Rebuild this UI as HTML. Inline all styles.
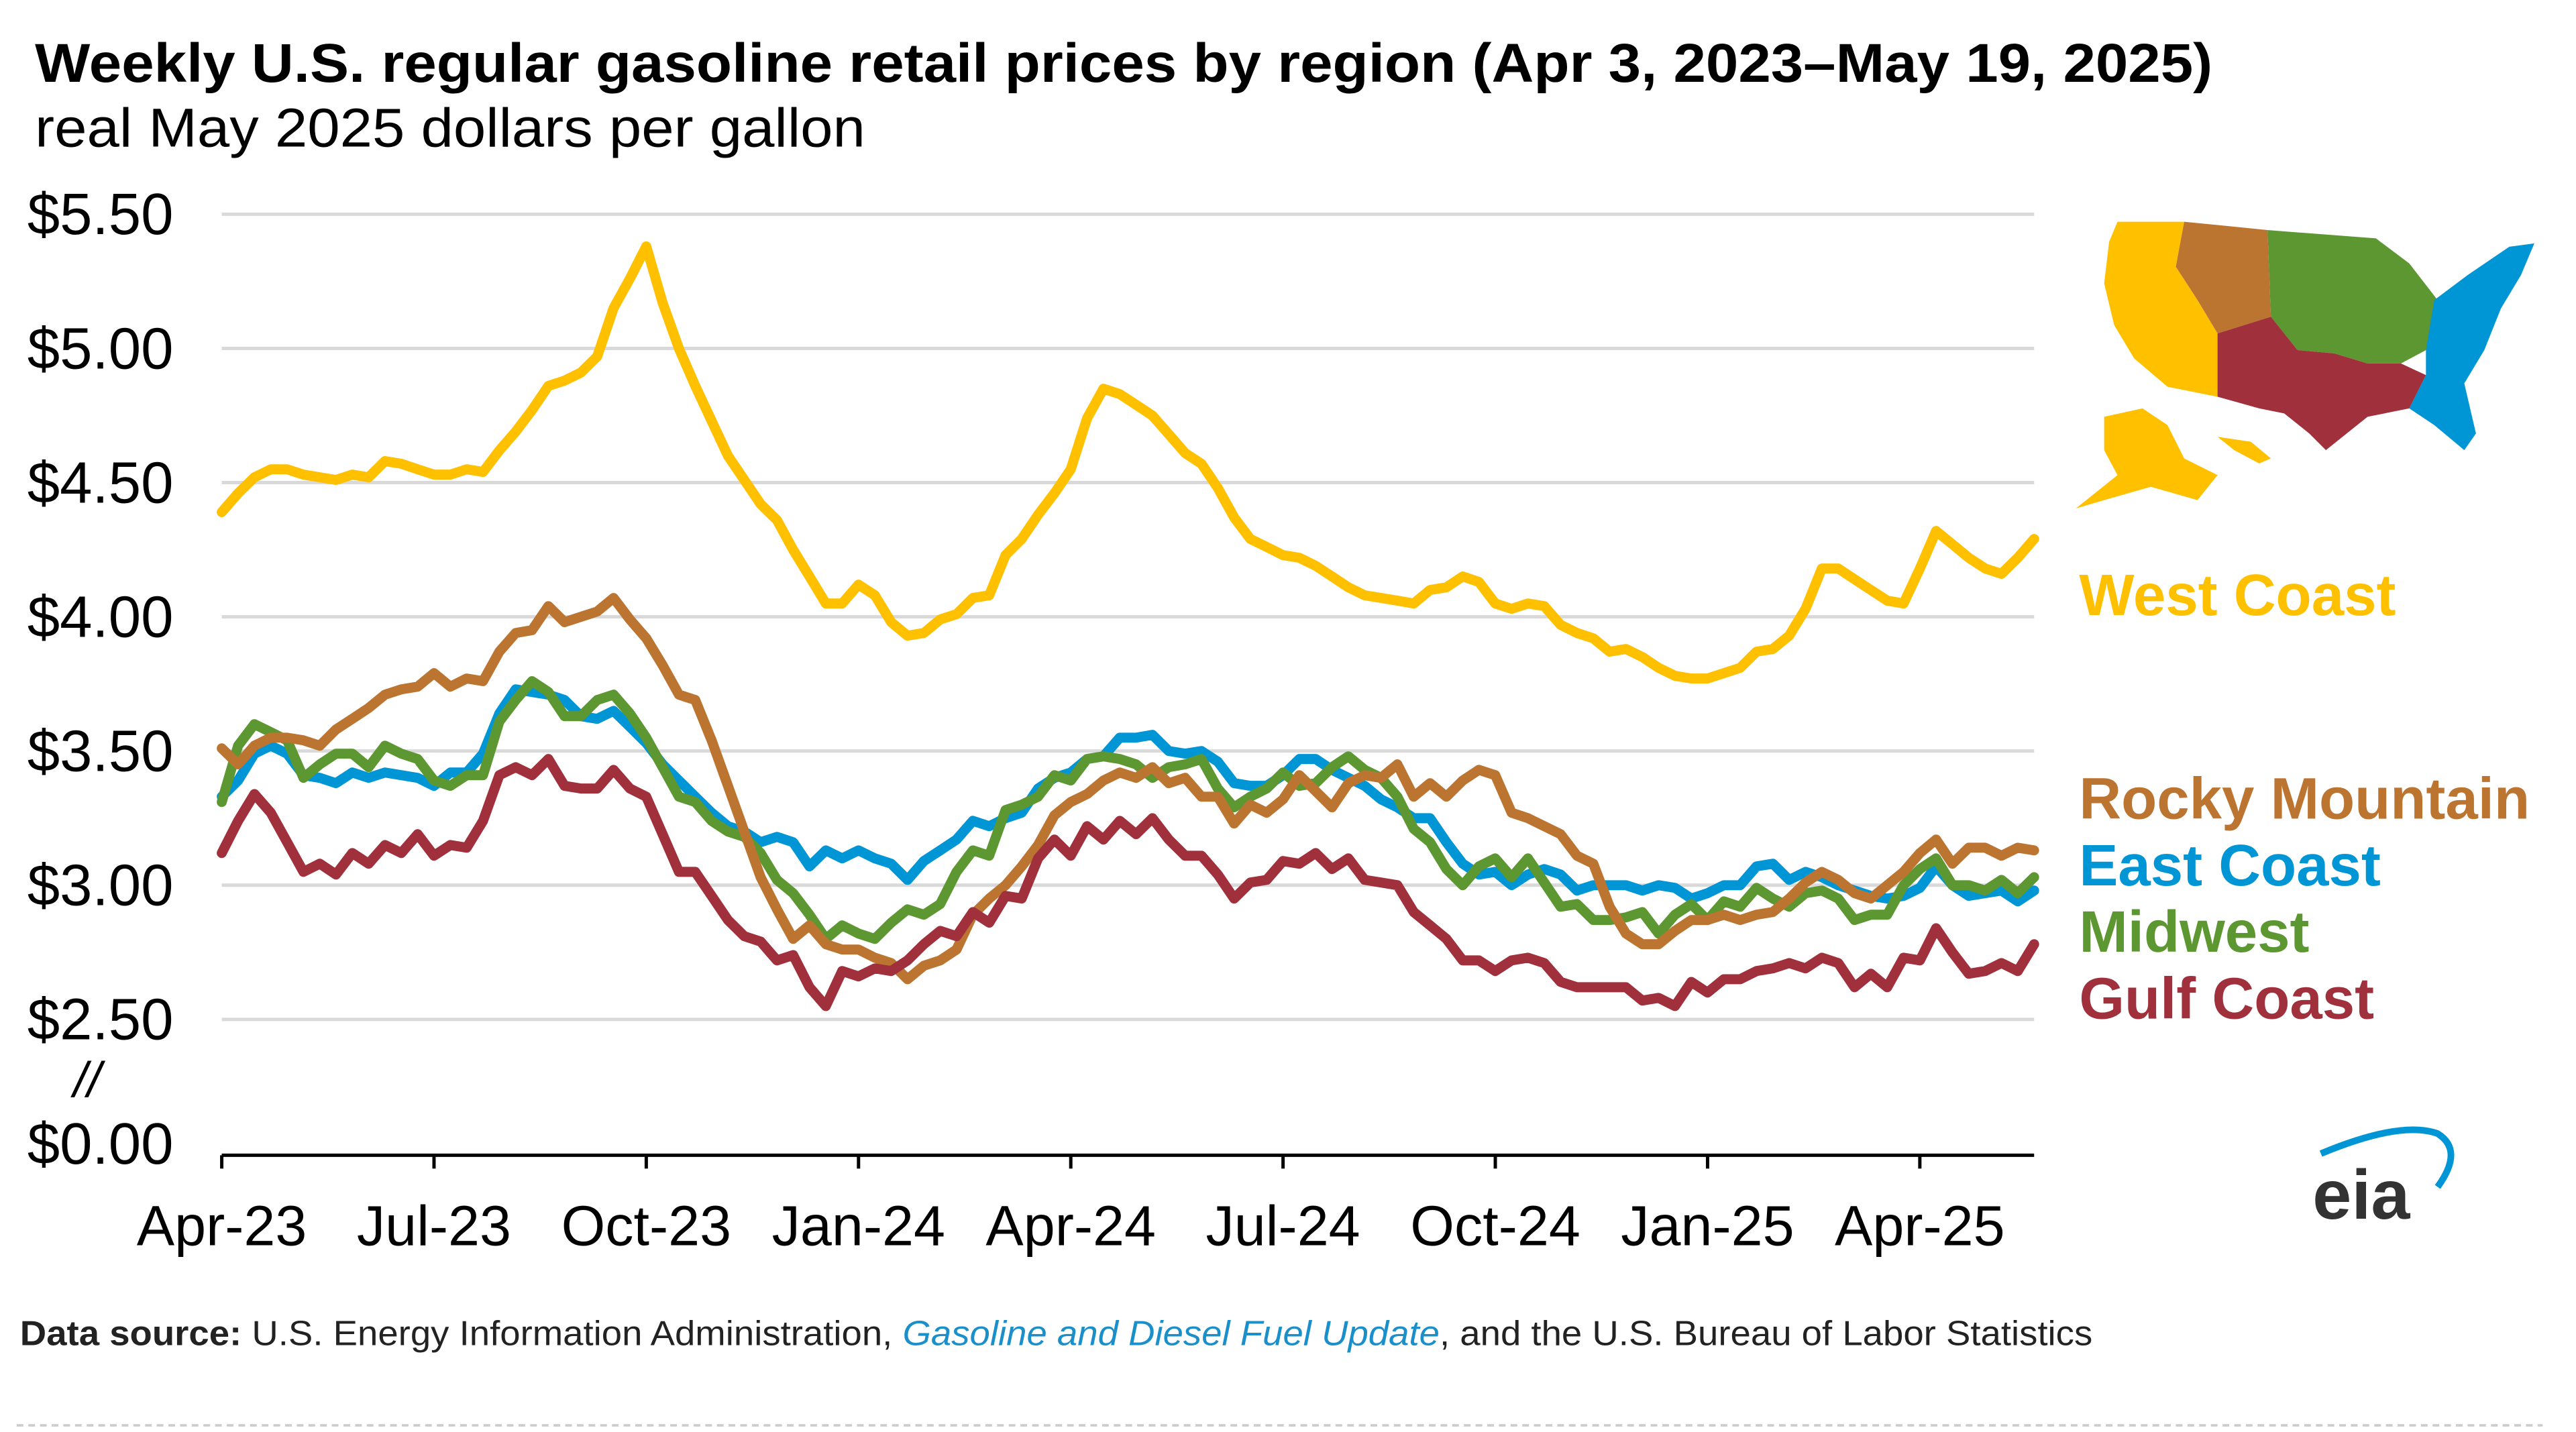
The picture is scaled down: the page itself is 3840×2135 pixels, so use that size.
<!DOCTYPE html>
<html><head><meta charset="utf-8"><style>
html,body{margin:0;padding:0;background:#fff;}
svg{display:block;}
text{font-family:"Liberation Sans",Arial,sans-serif;}
</style></head><body>
<svg id="chart" width="3840" height="2135" viewBox="0 0 1545 859" xmlns="http://www.w3.org/2000/svg">
<text x="21" y="49" font-size="33" font-weight="bold" fill="#000" textLength="1306" lengthAdjust="spacingAndGlyphs">Weekly U.S. regular gasoline retail prices by region (Apr 3, 2023–May 19, 2025)</text>
<text x="21" y="88" font-size="33" fill="#000" textLength="498" lengthAdjust="spacingAndGlyphs">real May 2025 dollars per gallon</text>
<g id="grid"></g>
<g id="yaxis"></g>
<text x="44" y="658" font-size="30" fill="#000" font-style="italic">//</text>
<g id="xaxis"></g>
<g id="lines"></g>
<g>
<polygon fill="#FFC000" points="1270,133 1310,133 1305,160 1318,180 1330,200 1330,238 1300,232 1280,215 1268,195 1262,170 1265,145"/>
<polygon fill="#BC7431" points="1310,133 1360,138 1362,190 1330,200 1318,180 1305,160"/>
<polygon fill="#5D9732" points="1360,138 1425,143 1445,158 1462,180 1455,210 1440,218 1420,218 1400,212 1378,210 1362,190"/>
<polygon fill="#A0303C" points="1330,200 1362,190 1378,210 1400,212 1420,218 1440,218 1455,225 1445,245 1420,250 1395,270 1385,260 1370,248 1355,245 1330,238"/>
<polygon fill="#0096D6" points="1460,180 1480,165 1505,148 1520,146 1512,165 1500,185 1490,210 1478,230 1485,260 1478,270 1460,255 1445,245 1455,225 1455,210"/>
<polygon fill="#FFC000" points="1262,250 1285,245 1300,255 1310,275 1330,285 1318,300 1290,292 1262,300 1245,305 1270,285 1262,270"/>
<polygon fill="#FFC000" points="1330,262 1350,265 1362,275 1355,278 1340,270"/>
</g>
<g font-size="35" font-weight="bold">
<text x="1247" y="369" fill="#FFC000">West Coast</text>
<text x="1247" y="491" fill="#BC7431">Rocky Mountain</text>
<text x="1247" y="531" fill="#0096D6">East Coast</text>
<text x="1247" y="571" fill="#5D9732">Midwest</text>
<text x="1247" y="611" fill="#A0303C">Gulf Coast</text>
</g>
<g>
<path d="M1392,692 Q1440,672 1462,680 Q1478,690 1462,712" fill="none" stroke="#0096D6" stroke-width="4"/>
<text x="1387" y="731" font-size="42" font-weight="bold" fill="#333">eia</text>
</g>
<text x="12" y="807" font-size="21" fill="#222" textLength="1243" lengthAdjust="spacingAndGlyphs"><tspan font-weight="bold">Data source:</tspan> U.S. Energy Information Administration, <tspan fill="#1a8fc9" font-style="italic">Gasoline and Diesel Fuel Update</tspan>, and the U.S. Bureau of Labor Statistics</text>
<line x1="10" y1="855" x2="1525" y2="855" stroke="#ccc" stroke-width="1.5" stroke-dasharray="4,3"/>
</svg>
<script>
const yTicks = [2.5, 3.0, 3.5, 4.0, 4.5, 5.0, 5.5];
const yTickLabels = ["$2.50","$3.00","$3.50","$4.00","$4.50","$5.00","$5.50"];
const xTickWeeks = [0, 13, 26, 39, 52, 65, 78, 91, 104];
const xTickLabels = ["Apr-23","Jul-23","Oct-23","Jan-24","Apr-24","Jul-24","Oct-24","Jan-25","Apr-25"];
const westCoast = [4.39,4.46,4.52,4.55,4.55,4.53,4.52,4.51,4.53,4.52,4.58,4.57,4.55,4.53,4.53,4.55,4.54,4.62,4.69,4.77,4.86,4.88,4.91,4.97,5.15,5.26,5.38,5.17,5.00,4.86,4.73,4.60,4.51,4.42,4.36,4.25,4.15,4.05,4.05,4.12,4.08,3.98,3.93,3.94,3.99,4.01,4.07,4.08,4.23,4.29,4.38,4.46,4.55,4.74,4.85,4.83,4.79,4.75,4.68,4.61,4.57,4.48,4.37,4.29,4.26,4.23,4.22,4.19,4.15,4.11,4.08,4.07,4.06,4.05,4.10,4.11,4.15,4.13,4.05,4.03,4.05,4.04,3.97,3.94,3.92,3.87,3.88,3.85,3.81,3.78,3.77,3.77,3.79,3.81,3.87,3.88,3.93,4.03,4.18,4.18,4.14,4.10,4.06,4.05,4.18,4.32,4.27,4.22,4.18,4.16,4.22,4.29];
const rockyMountain = [3.51,3.45,3.52,3.55,3.55,3.54,3.52,3.58,3.62,3.66,3.71,3.73,3.74,3.79,3.74,3.77,3.76,3.87,3.94,3.95,4.04,3.98,4.00,4.02,4.07,3.99,3.92,3.82,3.71,3.69,3.54,3.37,3.20,3.03,2.91,2.80,2.85,2.78,2.76,2.76,2.73,2.71,2.65,2.70,2.72,2.76,2.89,2.95,3.00,3.07,3.15,3.26,3.31,3.34,3.39,3.42,3.40,3.44,3.38,3.40,3.33,3.33,3.23,3.30,3.27,3.32,3.41,3.35,3.29,3.38,3.41,3.40,3.45,3.33,3.38,3.33,3.39,3.43,3.41,3.27,3.25,3.22,3.19,3.11,3.08,2.92,2.82,2.78,2.78,2.83,2.87,2.87,2.89,2.87,2.89,2.90,2.95,3.01,3.05,3.02,2.97,2.95,3.00,3.05,3.12,3.17,3.08,3.14,3.14,3.11,3.14,3.13];
const eastCoast = [3.33,3.39,3.49,3.52,3.49,3.41,3.40,3.38,3.42,3.40,3.42,3.41,3.40,3.37,3.42,3.42,3.49,3.64,3.73,3.72,3.71,3.69,3.63,3.62,3.65,3.59,3.53,3.45,3.39,3.33,3.27,3.22,3.20,3.16,3.18,3.16,3.07,3.13,3.10,3.13,3.10,3.08,3.02,3.09,3.13,3.17,3.24,3.22,3.25,3.27,3.36,3.40,3.42,3.47,3.48,3.55,3.55,3.56,3.50,3.49,3.50,3.46,3.38,3.37,3.37,3.41,3.47,3.47,3.43,3.40,3.37,3.32,3.29,3.25,3.25,3.16,3.08,3.04,3.05,3.00,3.04,3.06,3.04,2.98,3.00,3.00,3.00,2.98,3.00,2.99,2.95,2.97,3.00,3.00,3.07,3.08,3.02,3.05,3.03,3.00,2.98,2.96,2.95,2.96,2.99,3.07,3.00,2.96,2.97,2.98,2.94,2.98];
const midwest = [3.31,3.52,3.60,3.57,3.54,3.40,3.45,3.49,3.49,3.44,3.52,3.49,3.47,3.39,3.37,3.41,3.41,3.61,3.69,3.76,3.72,3.63,3.63,3.69,3.71,3.64,3.55,3.44,3.33,3.31,3.24,3.20,3.18,3.12,3.02,2.97,2.89,2.80,2.85,2.82,2.80,2.86,2.91,2.89,2.93,3.05,3.13,3.11,3.28,3.30,3.33,3.41,3.39,3.47,3.48,3.47,3.45,3.40,3.44,3.45,3.47,3.36,3.29,3.33,3.36,3.42,3.37,3.38,3.44,3.48,3.43,3.40,3.33,3.21,3.16,3.06,3.00,3.07,3.10,3.03,3.10,3.01,2.92,2.93,2.87,2.87,2.88,2.90,2.82,2.89,2.93,2.87,2.94,2.92,2.99,2.95,2.92,2.97,2.98,2.95,2.87,2.89,2.89,3.00,3.06,3.10,3.00,3.00,2.98,3.02,2.97,3.03];
const gulfCoast = [3.12,3.24,3.34,3.27,3.16,3.05,3.08,3.04,3.12,3.08,3.15,3.12,3.19,3.11,3.15,3.14,3.24,3.41,3.44,3.41,3.47,3.37,3.36,3.36,3.43,3.36,3.33,3.19,3.05,3.05,2.96,2.87,2.81,2.79,2.72,2.74,2.62,2.55,2.68,2.66,2.69,2.68,2.72,2.78,2.83,2.81,2.90,2.86,2.96,2.95,3.10,3.17,3.11,3.22,3.17,3.24,3.19,3.25,3.17,3.11,3.11,3.04,2.95,3.01,3.02,3.09,3.08,3.12,3.06,3.10,3.02,3.01,3.00,2.90,2.85,2.80,2.72,2.72,2.68,2.72,2.73,2.71,2.64,2.62,2.62,2.62,2.62,2.57,2.58,2.55,2.64,2.60,2.65,2.65,2.68,2.69,2.71,2.69,2.73,2.71,2.62,2.67,2.62,2.73,2.72,2.84,2.75,2.67,2.68,2.71,2.68,2.78];
const seriesList = [
  {name:"west-coast-line", data:westCoast, color:"#FFC000"},
  {name:"east-coast-line", data:eastCoast, color:"#0096D6"},
  {name:"midwest-line", data:midwest, color:"#5D9732"},
  {name:"rocky-mountain-line", data:rockyMountain, color:"#BC7431"},
  {name:"gulf-coast-line", data:gulfCoast, color:"#A0303C"}
];
const NS = "http://www.w3.org/2000/svg";
const X0 = 133, X1 = 1220;
const nWeeks = westCoast.length;
function xScale(i){ return X0 + (X1 - X0) * i / (nWeeks - 1); }
function yScale(v){ return 531 - (v - 3.0) * 161; }
const grid = document.getElementById('grid');
const yaxis = document.getElementById('yaxis');
yTicks.forEach((t, k) => {
  const ln = document.createElementNS(NS, 'line');
  ln.setAttribute('x1', X0); ln.setAttribute('x2', X1);
  ln.setAttribute('y1', yScale(t)); ln.setAttribute('y2', yScale(t));
  ln.setAttribute('stroke', '#d9d9d9'); ln.setAttribute('stroke-width', '2');
  
  
  grid.appendChild(ln);
  const tx = document.createElementNS(NS, 'text');
  tx.setAttribute('x', 104); tx.setAttribute('y', yScale(t) + 12);
  tx.setAttribute('text-anchor', 'end'); tx.setAttribute('font-size', '35');
  tx.textContent = yTickLabels[k];
  
  
  yaxis.appendChild(tx);
});
const zero = document.createElementNS(NS, 'text');
zero.setAttribute('x', 104); zero.setAttribute('y', 698);
zero.setAttribute('text-anchor', 'end'); zero.setAttribute('font-size', '35');
zero.textContent = "$0.00";


yaxis.appendChild(zero);
const xaxis = document.getElementById('xaxis');
const axl = document.createElementNS(NS, 'line');
axl.setAttribute('x1', X0); axl.setAttribute('x2', X1);
axl.setAttribute('y1', 693); axl.setAttribute('y2', 693);
axl.setAttribute('stroke', '#000'); axl.setAttribute('stroke-width', '2');


xaxis.appendChild(axl);
xTickWeeks.forEach((w, k) => {
  const tk = document.createElementNS(NS, 'line');
  tk.setAttribute('x1', xScale(w)); tk.setAttribute('x2', xScale(w));
  tk.setAttribute('y1', 693); tk.setAttribute('y2', 701);
  tk.setAttribute('stroke', '#000'); tk.setAttribute('stroke-width', '2');
  
  
  xaxis.appendChild(tk);
  const tx = document.createElementNS(NS, 'text');
  tx.setAttribute('x', xScale(w)); tx.setAttribute('y', 747);
  tx.setAttribute('text-anchor', 'middle'); tx.setAttribute('font-size', '34');
  tx.textContent = xTickLabels[k];
  
  
  xaxis.appendChild(tx);
});
const lines = document.getElementById('lines');
seriesList.forEach(s => {
  const p = document.createElementNS(NS, 'polyline');
  p.setAttribute('points', s.data.map((v, i) => xScale(i).toFixed(1) + ',' + yScale(v).toFixed(1)).join(' '));
  p.setAttribute('fill', 'none'); p.setAttribute('stroke', s.color);
  p.setAttribute('stroke-width', '6'); p.setAttribute('stroke-linejoin', 'round'); p.setAttribute('stroke-linecap', 'round');
  
  
  lines.appendChild(p);
});
</script>
</body></html>
